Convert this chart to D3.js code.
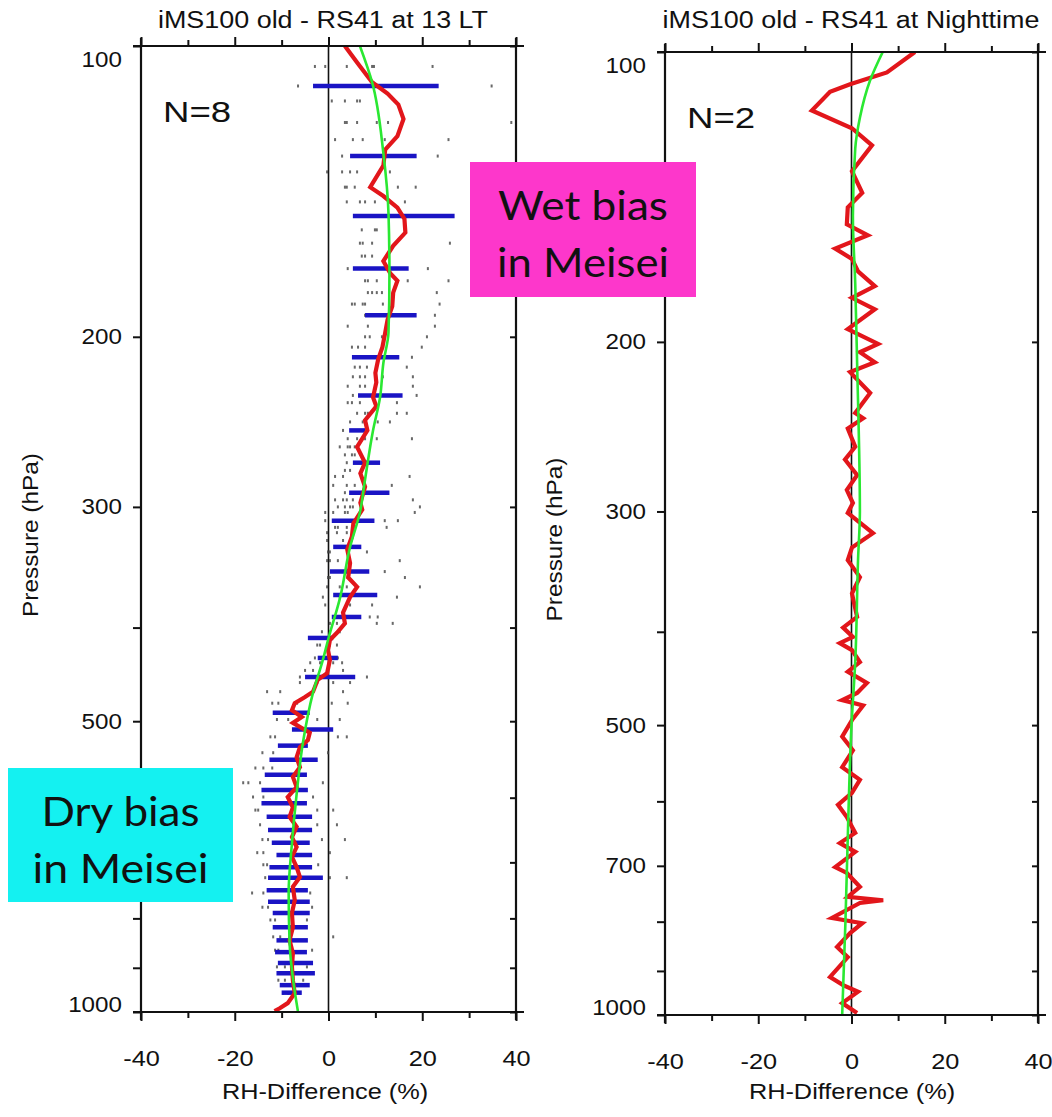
<!DOCTYPE html>
<html>
<head>
<meta charset="utf-8">
<script src="https://cdn.jsdelivr.net/npm/d3@7"></script>
<style>
  html, body { margin: 0; padding: 0; background: #fff; }
  svg { display: block; }
</style>
</head>
<body>
<svg id="chart" width="1052" height="1117"></svg>
<script>
// ---- data: pressure (hPa) vs RH difference (%) ----
const panelTitles = ["iMS100 old - RS41 at 13 LT", "iMS100 old - RS41 at Nighttime"];
const sampleLabels = ["N=8", "N=2"];
const xTickMajor = [-40, -20, 0, 20, 40];
const xTickMinor = [-30, -10, 10, 30];
const pressureTicks = [100, 200, 300, 400, 500, 600, 700, 800, 900, 1000];
const dayPressureLabels = [100, 200, 300, 500, 1000];
const nightPressureLabels = [100, 200, 300, 500, 700, 1000];
const xAxisTitle = "RH-Difference (%)";
const yAxisTitle = "Pressure (hPa)";
const wetNote = ["Wet bias", "in Meisei"];
const dryNote = ["Dry bias", "in Meisei"];

// daytime (13 LT): mean difference profile [p, dRH]
const dayMeanDiff = [
  [100,3.5],[104,6.1],[109,9.3],[112,12.6],[115,14.9],[119,16.0],[124,14.7],[128,12.1],
  [133,11.7],[140,8.9],[143,11.7],[147,14.7],[151,16.2],[156,16.4],[161,13.8],[167,11.7],
  [172,13.2],[175,14.7],[180,13.8],[186,13.6],[192,12.6],[198,12.1],[205,11.5],[211,10.6],
  [218,10.0],[223,10.2],[231,9.5],[236,10.2],[244,7.8],[250,8.3],[260,6.1],[270,7.8],
  [277,6.8],[286,7.8],[297,6.8],[302,7.2],[312,5.3],[322,5.0],[332,4.0],[343,4.6],
  [355,4.2],[363,6.1],[372,4.6],[386,3.1],[396,3.5],[405,1.8],[412,0.3],[422,-0.1],
  [432,0.3],[446,-0.3],[453,-2.3],[466,-3.3],[472,-5.0],[479,-7.2],[487,-7.8],[495,-5.7],
  [502,-7.6],[514,-4.0],[523,-4.4],[532,-6.1],[545,-6.8],[558,-6.1],[571,-7.6],[585,-6.8],
  [599,-8.7],[614,-7.6],[628,-8.3],[643,-6.8],[659,-7.8],[675,-6.8],[691,-7.8],[708,-6.8],
  [725,-6.1],[742,-7.6],[766,-7.2],[790,-7.8],[817,-7.6],[843,-8.3],[869,-7.6],[898,-7.8],
  [927,-7.6],[956,-7.2],[979,-8.7],[991,-10.4],[998,-11.5]
];
// daytime smooth fit [p, dRH]
const dayFit = [
  [100,6.7],[109,9.3],[129,11.7],[149,12.8],[172,13.0],[198,12.8],[213,11.7],[231,11.0],
  [250,9.5],[281,7.8],[304,6.7],[330,4.6],[372,2.5],[412,-0.1],[432,-1.2],[467,-3.3],
  [528,-5.5],[595,-6.8],[669,-7.8],[752,-8.5],[849,-8.3],[922,-7.6],[1000,-6.5]
];
// daytime spread bars [p, low, high]
const dayStdBars = [
  [110,-3.3,23.5],[130,4.6,18.8],[150,5.2,26.9],[170,5.2,17.1],[190,7.8,18.8],[210,5.0,15.1],
  [230,6.3,15.8],[250,4.4,7.8],[270,5.2,11.0],[290,4.4,13.0],[310,0.7,9.8],[330,1.0,7.0],
  [350,0.3,8.7],[370,1.0,10.4],[390,0.7,7.0],[410,-4.4,1.0],[430,-2.3,2.0],[450,-5.0,5.7],
  [490,-11.9,-4.0],[510,-7.8,1.0],[530,-10.8,-4.4],[548,-12.6,-2.3],[568,-13.6,-4.6],
  [589,-14.3,-4.4],[608,-14.3,-4.6],[628,-13.2,-3.5],[648,-12.9,-3.5],[668,-12.1,-4.0],
  [688,-11.1,-3.5],[708,-12.6,-3.5],[726,-12.9,-1.2],[748,-13.2,-4.4],[769,-12.9,-4.0],
  [790,-11.9,-4.0],[817,-11.9,-4.4],[843,-11.1,-4.4],[867,-11.4,-4.6],[890,-10.8,-3.3],
  [912,-11.1,-2.9],[938,-10.4,-4.0],[955,-10.0,-5.7]
];
// daytime individual soundings [p, [dRH ...]]
const dayProfileDots = [
  [105,[-2.9,-0.7,3.9,9.3,9.7,22.2]],[110,[-6.5,34.8]],[114,[0.7,3.5,6.1,6.7]],
  [120,[3.5,3.9,6.1,10.3,12.7,39.0]],[125,[1.4,5.2,7.3,12.0,25.6]],[130,[2.9,23.3]],
  [135,[-0.3,2.9,4.6,6.1,13.1]],[140,[3.5,3.9,5.6,14.8,18.6]],[145,[3.9,6.7,7.8,9.9,16.3]],
  [155,[7.1,9.9,10.3]],[160,[6.7,7.3,9.3,25.9]],[165,[7.1,7.8,9.3]],[170,[4.1,21.2]],
  [175,[7.8,8.4,10.3,16.9,25.6]],[180,[8.4,9.3,10.3,11.4,23.1]],[185,[5.0,5.6,7.3,7.8,11.6,23.7]],
  [190,[7.8,22.7]],[195,[4.1,8.4,22.7]],[200,[7.8,8.8,11.4,21.0]],[205,[5.0,6.3,7.8,19.9]],
  [210,[17.8]],[215,[5.6,6.7,8.2,16.7]],[220,[5.2,6.7,7.8,11.6,18.0]],[225,[4.1,6.7,7.8,18.0]],
  [230,[5.2,18.8]],[234,[4.1,5.0,6.7,14.6]],[240,[6.1,7.8,8.4,14.6,16.7]],[245,[4.6,7.3,10.5,13.1]],
  [250,[3.1]],[255,[4.1,6.1,7.8,10.3,17.8]],[260,[2.4,4.1,4.6,5.6]],[265,[3.5,5.0,5.6]],
  [270,[3.9]],[275,[3.5,4.6]],[279,[1.4,3.1,17.3]],[285,[1.0,3.9,5.6,13.5]],[290,[3.5]],
  [295,[1.4,3.1,3.9,5.2,18.0]],[300,[2.0,3.5,4.6,5.2,19.5]],[304,[-0.7,1.0,3.5,4.1,18.4]],
  [310,[-0.7,12.0,14.8]],[315,[1.4,2.0,3.9,12.4]],[319,[-0.3,1.8,3.9,5.0]],[325,[-0.3,3.1,4.6]],
  [334,[-0.1,0.3,8.2]],[341,[-0.3,0.3,2.0,15.2]],[350,[12.0]],[355,[-0.1,0.3,4.1,16.3]],
  [363,[-0.3,2.4,3.9,19.5]],[372,[-1.2,2.4,14.6]],[379,[-0.7,4.6,9.3]],[390,[8.8,10.5]],
  [396,[0.3,1.8,10.3,13.7]],[404,[-1.4,0.3,2.4]],[417,[-2.4,-1.8,0.3,1.8]],[430,[-2.9,2.0]],
  [435,[-3.9,-1.8,1.0,2.9]],[443,[-5.0,-3.3,3.1]],[450,[-6.1,8.2]],[456,[-6.1,-2.4,1.0,4.6]],
  [466,[-13.1,-10.3,3.1]],[479,[-12.0,-10.7,-6.7,0.7,4.1]],[498,[-11.0,-8.6,-2.4,2.4]],
  [519,[-12.4,-11.4,2.0,3.9]],[539,[-14.1,-11.8,-0.1]],[559,[-15.6,-13.9,-12.0]],
  [579,[-18.2,-17.1,-14.6,-1.2]],[599,[-16.1,-13.9,-3.3]],[618,[-15.6,-15.0,-2.4,1.0]],
  [640,[-14.6,-2.4,1.8]],[663,[-14.1,-12.9,-1.4,3.5]],[684,[-15.2,-13.9,0.3]],
  [704,[-13.9,-13.1,-2.2]],[726,[-13.5,0.3,3.9]],[753,[-16.3,-13.9,-3.9]],
  [779,[-14.1,-12.9,-3.5]],[803,[-12.4,-11.4,-4.6]],[836,[-11.8,-10.3,1.0]],
  [863,[-11.4,-10.7,-3.5]],[898,[-11.0,-9.3,-4.6]],[927,[-10.7,-9.3,-5.4]],[956,[-9.7,-8.6,-6.1]]
];

// nighttime: mean difference profile [p, dRH]
const nightMeanDiff = [
  [100,13.6],[105,7.6],[108,-0.3],[110,-4.6],[115,-8.5],[120,0.1],[125,4.4],[133,0.1],
  [140,2.3],[145,-0.8],[151,-1.0],[155,3.5],[160,-3.5],[164,0.1],[169,1.4],[175,5.0],
  [180,0.1],[185,5.0],[194,-0.8],[201,5.7],[205,1.8],[210,5.0],[215,-0.3],[226,4.0],
  [237,0.8],[240,2.5],[246,-0.8],[257,0.8],[265,-1.4],[275,1.2],[285,-1.0],[294,0.3],
  [301,-0.8],[316,4.6],[327,0.1],[337,-0.8],[351,1.8],[365,0.1],[386,1.2],[396,-1.8],
  [405,0.3],[411,-2.5],[418,0.1],[430,1.8],[440,-0.8],[452,3.3],[463,1.2],[471,-2.0],
  [477,2.5],[494,0.1],[514,-2.0],[531,0.3],[553,-2.0],[570,1.8],[588,0.1],[605,-2.9],
  [623,-1.0],[647,0.8],[663,-2.5],[677,0.8],[702,-3.5],[712,-1.0],[736,1.8],[754,-0.8],
  [760,6.8],[765,1.8],[793,-4.2],[803,2.3],[822,-0.3],[850,-3.1],[871,-0.8],[913,-4.6],
  [931,-1.8],[946,1.4],[972,-2.0],[995,1.2]
];
// nighttime smooth fit [p, dRH]
const nightFit = [
  [100,6.7],[107,4.0],[117,1.8],[126,0.8],[148,0.3],[174,0.8],[210,1.2],[300,1.8],
  [337,1.4],[430,0.8],[500,0.0],[654,-0.8],[800,-1.3],[1000,-2.0]
];

// ---- layout ----
const FONT = "'Liberation Sans', Arial, Helvetica, sans-serif";
const svg = d3.select("#chart");

const panels = [
  { x0: 141, x1: 516, y0: 46, y1: 1012, title: panelTitles[0], n: sampleLabels[0],
    titleX: 323, nX: 163, nY: 122, xTitleX: 325, labels: dayPressureLabels,
    mean: dayMeanDiff, fit: dayFit, bars: dayStdBars, dots: dayProfileDots },
  { x0: 665, x1: 1038, y0: 52, y1: 1015, title: panelTitles[1], n: sampleLabels[1],
    titleX: 851, nX: 687, nY: 128, xTitleX: 852, labels: nightPressureLabels,
    mean: nightMeanDiff, fit: nightFit, bars: [], dots: [] }
];

// lettering in this figure is set wide: stretch text horizontally by k
function widen(sel, k) {
  sel.each(function () {
    const w = this.getComputedTextLength();
    if (w > 0) {
      this.setAttribute("textLength", w * k);
      this.setAttribute("lengthAdjust", "spacingAndGlyphs");
    }
  });
}

panels.forEach((P, i) => {
  const x = d3.scaleLinear().domain([-40, 40]).range([P.x0, P.x1]);
  const y = d3.scaleLog().domain([100, 1000]).range([P.y0, P.y1]);
  const g = svg.append("g");

  const clipId = "plot-clip-" + i;
  g.append("clipPath").attr("id", clipId)
    .append("rect").attr("x", P.x0).attr("y", P.y0)
    .attr("width", P.x1 - P.x0).attr("height", P.y1 - P.y0);

  // zero reference line
  g.append("line")
    .attr("x1", x(0)).attr("x2", x(0)).attr("y1", P.y0).attr("y2", P.y1)
    .attr("stroke", "#111").attr("stroke-width", 1.6);

  const plot = g.append("g").attr("clip-path", `url(#${clipId})`);

  // individual soundings
  const dotPts = P.dots.flatMap(([p, vs]) => vs.map(v => [p, v]));
  plot.append("g").selectAll("rect").data(dotPts).join("rect")
    .attr("x", d => x(d[1]) - 1).attr("y", d => y(d[0]) - 1.5)
    .attr("width", 2).attr("height", 3)
    .attr("fill", "#444").attr("opacity", 0.8);

  // spread bars
  plot.append("g").selectAll("line").data(P.bars).join("line")
    .attr("x1", d => x(d[1])).attr("x2", d => x(d[2]))
    .attr("y1", d => y(d[0])).attr("y2", d => y(d[0]))
    .attr("stroke", "#1a14c4").attr("stroke-width", 4.5);

  // mean difference
  plot.append("path").datum(P.mean)
    .attr("d", d3.line().x(d => x(d[1])).y(d => y(d[0])))
    .attr("fill", "none").attr("stroke", "#e2161b").attr("stroke-width", 4.2)
    .attr("stroke-linejoin", "miter").attr("stroke-miterlimit", 6);

  // smooth fit
  plot.append("path").datum(P.fit)
    .attr("d", d3.line().curve(d3.curveMonotoneY).x(d => x(d[1])).y(d => y(d[0])))
    .attr("fill", "none").attr("stroke", "#2ae832").attr("stroke-width", 2.6);

  // axes
  const axisStyle = sel => {
    sel.select(".domain").remove();
    sel.selectAll("line").attr("stroke", "#111").attr("stroke-width", 2);
    sel.selectAll("text").attr("font-family", FONT).attr("font-size", 22).attr("fill", "#111");
  };
  g.append("g").attr("transform", `translate(0,${P.y1})`)
    .call(d3.axisBottom(x).tickValues(xTickMajor).tickSize(9).tickPadding(29).tickFormat(d => String(d)))
    .call(axisStyle).call(s => widen(s.selectAll("text"), 1.15));
  g.append("g").attr("transform", `translate(0,${P.y1})`)
    .call(d3.axisBottom(x).tickValues(xTickMinor).tickSize(6).tickFormat(""))
    .call(axisStyle);
  g.append("g").attr("transform", `translate(0,${P.y0})`)
    .call(d3.axisTop(x).tickValues(xTickMajor).tickSize(9).tickFormat(""))
    .call(axisStyle);
  g.append("g").attr("transform", `translate(0,${P.y0})`)
    .call(d3.axisTop(x).tickValues(xTickMinor).tickSize(6).tickFormat(""))
    .call(axisStyle);
  const yl = g.append("g").attr("transform", `translate(${P.x0},0)`)
    .call(d3.axisLeft(y).tickValues(pressureTicks).tickSize(8).tickPadding(11)
      .tickFormat(d => P.labels.includes(d) ? String(d) : ""))
    .call(axisStyle);
  yl.selectAll(".tick text")
    .attr("transform", d => d === 100 ? "translate(0,13)" : d === 1000 ? "translate(0,-8)" : null)
    .call(s => widen(s, 1.1));
  g.append("g").attr("transform", `translate(${P.x1},0)`)
    .call(d3.axisRight(y).tickValues(pressureTicks).tickSize(-6).tickFormat(""))
    .call(axisStyle);

  // frame with crossing corners
  const ext = 8;
  const frame = [
    [P.x0 - ext, P.y0, P.x1 + ext, P.y0],
    [P.x0 - ext, P.y1, P.x1 + ext, P.y1],
    [P.x0, P.y0 - ext, P.x0, P.y1 + ext],
    [P.x1, P.y0 - ext, P.x1, P.y1 + ext]
  ];
  g.append("g").selectAll("line").data(frame).join("line")
    .attr("x1", d => d[0]).attr("y1", d => d[1]).attr("x2", d => d[2]).attr("y2", d => d[3])
    .attr("stroke", "#111").attr("stroke-width", 2.2);

  // titles and labels
  g.append("text").attr("x", P.titleX).attr("y", 28).attr("text-anchor", "middle")
    .attr("font-family", FONT).attr("font-size", 23).attr("fill", "#111")
    .text(P.title).call(s => widen(s, 1.17));
  g.append("text").attr("x", P.xTitleX).attr("y", 1099).attr("text-anchor", "middle")
    .attr("font-family", FONT).attr("font-size", 22).attr("fill", "#111")
    .text(xAxisTitle).call(s => widen(s, 1.15));
  g.append("text")
    .attr("transform", `translate(${P.x0 - 103},${(P.y0 + P.y1) / 2 + 6}) rotate(-90)`)
    .attr("text-anchor", "middle")
    .attr("font-family", FONT).attr("font-size", 22).attr("fill", "#111")
    .text(yAxisTitle).attr("textLength", 164).attr("lengthAdjust", "spacingAndGlyphs");
  g.append("text").attr("x", P.nX).attr("y", P.nY)
    .attr("font-family", FONT).attr("font-size", 30).attr("fill", "#111")
    .text(P.n).call(s => widen(s, 1.22));
});

// annotation boxes
const NOTE_FONT = "Lato, 'Open Sans', Carlito, sans-serif";
function noteBox(x, y, w, h, fill, lines, widths) {
  const g = svg.append("g");
  g.append("rect").attr("x", x).attr("y", y).attr("width", w).attr("height", h).attr("fill", fill);
  lines.forEach((t, k) => {
    g.append("text").attr("x", x + w / 2).attr("y", y + 58 + k * 57)
      .attr("text-anchor", "middle").attr("font-family", NOTE_FONT)
      .attr("font-size", 41).attr("fill", "#111")
      .attr("textLength", widths[k]).attr("lengthAdjust", "spacingAndGlyphs")
      .text(t);
  });
}
noteBox(470, 162, 226, 135, "#fd37cb", wetNote, [170, 172]);
noteBox(8, 768, 225, 134, "#14f1f1", dryNote, [158, 176]);
</script>
</body>
</html>
